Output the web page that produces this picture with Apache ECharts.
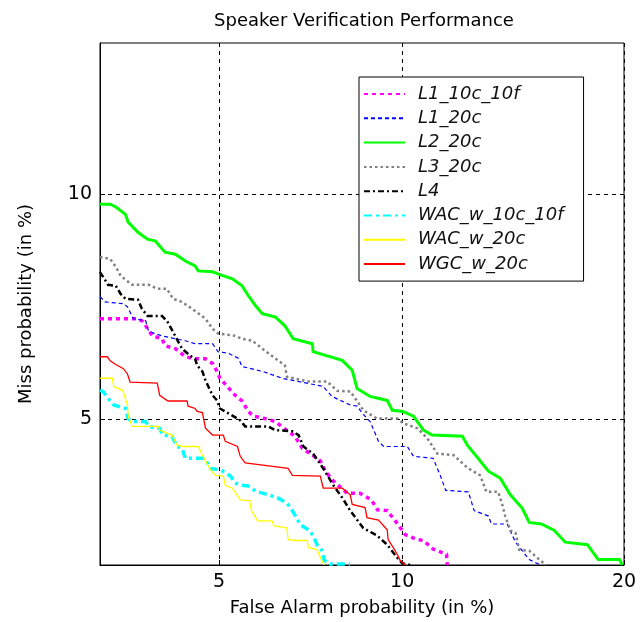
<!DOCTYPE html>
<html><head><meta charset="utf-8">
<script src="https://cdn.jsdelivr.net/npm/echarts@6/dist/echarts.min.js"></script>
<style>html,body{margin:0;padding:0;background:#fff}#c{width:641px;height:622px}</style>
</head><body><div id="c"></div>
<script>
// DET curves: [False Alarm %, Miss %]
const seriesNames = ['L1_10c_10f','L1_20c','L2_20c','L3_20c','L4','WAC_w_10c_10f','WAC_w_20c','WGC_w_20c'];
const xTickLabels = [5, 10, 20];
const yTickLabels = [5, 10];
const xRange = [3, 20];
const yRange = [3, 15];

const L1_10c_10f = [[3.0,6.91],[3.55,6.91],[3.63,6.85],[3.7,6.7],[3.78,6.55],[3.94,6.49],[3.99,6.35],[4.17,6.29],[4.35,6.13],[4.53,6.09],[4.73,6.09],[4.87,6.0],[4.96,5.85],[5.02,5.72],[5.17,5.57],[5.34,5.41],[5.49,5.31],[5.63,5.13],[5.74,5.05],[6.01,5.01],[6.26,4.96],[6.58,4.8],[6.76,4.72],[6.95,4.53],[7.22,4.43],[7.44,4.34],[7.58,4.19],[7.81,4.05],[8.22,3.88],[8.61,3.88],[8.97,3.79],[9.17,3.66],[9.49,3.65],[9.76,3.52],[10.11,3.35],[10.54,3.29],[10.76,3.28],[11.12,3.18],[11.63,3.12],[11.66,3.0]];
const L1_20c = [[3.0,7.4],[3.07,7.28],[3.33,7.24],[3.39,7.17],[3.48,6.91],[3.67,6.87],[3.72,6.64],[3.94,6.55],[4.17,6.49],[4.35,6.45],[4.53,6.39],[4.87,6.39],[4.98,6.23],[5.19,6.2],[5.41,6.1],[5.49,5.94],[5.95,5.85],[6.43,5.72],[7.52,5.57],[7.77,5.39],[8.31,5.24],[8.52,5.22],[8.68,5.1],[8.93,4.96],[9.2,4.64],[9.37,4.56],[10.18,4.56],[10.4,4.41],[11.12,4.38],[11.39,4.13],[11.6,3.92],[12.5,3.9],[12.74,3.65],[13.34,3.58],[13.47,3.48],[14.16,3.48],[14.53,3.26],[15.16,3.06],[15.7,3.0]];
const L2_20c = [[3.0,9.73],[3.14,9.73],[3.22,9.65],[3.36,9.45],[3.4,9.24],[3.55,8.97],[3.7,8.79],[3.83,8.74],[3.99,8.46],[4.17,8.41],[4.35,8.24],[4.53,8.12],[4.59,8.0],[4.87,7.98],[4.98,7.93],[5.28,7.81],[5.49,7.65],[5.63,7.42],[5.79,7.2],[5.95,7.02],[6.26,6.95],[6.5,6.76],[6.71,6.49],[7.22,6.39],[7.24,6.23],[8.07,6.06],[8.37,5.87],[8.52,5.53],[8.93,5.39],[9.49,5.32],[9.66,5.15],[10.02,5.13],[10.4,5.05],[10.76,4.82],[11.08,4.74],[12.26,4.72],[12.46,4.58],[12.9,4.38],[13.34,4.19],[13.85,4.09],[14.3,3.86],[14.84,3.68],[15.16,3.5],[15.73,3.48],[16.36,3.4],[16.9,3.26],[18.03,3.23],[18.6,3.06],[19.75,3.06],[19.9,3.0]];
const L3_20c = [[3.0,8.34],[3.14,8.29],[3.22,8.1],[3.29,7.88],[3.46,7.67],[3.72,7.67],[3.86,7.58],[4.02,7.58],[4.13,7.35],[4.29,7.28],[4.53,7.08],[4.73,6.91],[4.87,6.7],[4.98,6.6],[5.34,6.55],[5.49,6.49],[5.72,6.45],[5.95,6.29],[6.26,6.1],[6.5,5.96],[6.55,5.75],[7.08,5.66],[7.63,5.66],[7.92,5.49],[8.31,5.48],[8.52,5.31],[8.71,5.15],[9.15,5.01],[9.83,5.01],[10.04,4.93],[10.54,4.85],[10.9,4.69],[11.28,4.45],[11.9,4.43],[12.46,4.24],[12.99,4.13],[13.25,3.9],[13.76,3.9],[13.94,3.73],[14.07,3.58],[14.3,3.4],[14.53,3.37],[14.7,3.17],[15.16,3.16],[15.64,3.06],[15.95,3.0]];
const L4 = [[3.0,7.97],[3.06,7.81],[3.11,7.67],[3.22,7.65],[3.29,7.46],[3.36,7.35],[3.55,7.33],[3.61,7.13],[3.7,6.97],[3.94,6.97],[4.03,6.85],[4.13,6.63],[4.22,6.43],[4.29,6.29],[4.44,6.15],[4.53,6.09],[4.57,5.96],[4.67,5.85],[4.73,5.68],[4.87,5.41],[4.96,5.32],[5.02,5.18],[5.28,5.06],[5.45,4.98],[5.56,4.88],[6.09,4.88],[6.26,4.82],[6.69,4.8],[6.85,4.74],[6.98,4.56],[7.24,4.45],[7.52,4.23],[7.81,3.99],[8.07,3.82],[8.31,3.65],[8.71,3.43],[9.15,3.34],[9.49,3.23],[9.83,3.08],[10.0,3.02],[10.29,3.0]];
const WAC_w_10c_10f = [[3.0,5.5],[3.04,5.48],[3.11,5.36],[3.19,5.24],[3.36,5.18],[3.4,5.01],[3.46,4.96],[3.67,4.96],[3.72,4.88],[3.9,4.85],[3.95,4.74],[4.11,4.72],[4.2,4.56],[4.29,4.53],[4.35,4.38],[4.67,4.38],[4.77,4.31],[4.83,4.23],[5.03,4.21],[5.24,4.12],[5.34,4.02],[5.49,3.99],[5.63,3.98],[5.79,3.91],[6.09,3.86],[6.31,3.82],[6.55,3.75],[6.69,3.65],[6.9,3.47],[7.11,3.41],[7.24,3.34],[7.35,3.23],[7.49,3.16],[7.55,3.05],[7.72,3.01],[8.3,3.01]];
const WAC_w_20c = [[3.0,5.72],[3.17,5.72],[3.19,5.57],[3.32,5.5],[3.39,5.24],[3.4,5.06],[3.46,4.88],[3.88,4.88],[3.9,4.82],[4.11,4.74],[4.2,4.58],[4.31,4.56],[4.59,4.56],[4.67,4.43],[4.73,4.34],[4.83,4.21],[4.93,4.13],[5.09,4.12],[5.13,3.99],[5.28,3.95],[5.45,3.79],[5.66,3.78],[5.7,3.65],[5.84,3.52],[6.18,3.52],[6.23,3.46],[6.55,3.43],[6.58,3.29],[6.76,3.28],[7.08,3.28],[7.11,3.2],[7.35,3.17],[7.44,3.08],[7.55,3.0]];
const WGC_w_20c = [[3.0,6.13],[3.1,6.13],[3.14,6.05],[3.22,5.98],[3.33,5.9],[3.39,5.8],[3.43,5.65],[3.86,5.63],[3.9,5.41],[4.04,5.31],[4.38,5.31],[4.4,5.22],[4.53,5.18],[4.57,5.13],[4.67,5.11],[4.73,4.85],[4.87,4.74],[5.09,4.74],[5.13,4.64],[5.39,4.56],[5.45,4.41],[5.56,4.31],[6.58,4.23],[6.69,4.13],[7.44,4.12],[7.52,3.95],[8.07,3.95],[8.31,3.86],[8.37,3.73],[8.77,3.69],[8.83,3.56],[9.2,3.53],[9.49,3.41],[9.52,3.29],[9.69,3.2],[9.86,3.1],[9.93,3.05],[10.11,3.0]];

const seriesData = [L1_10c_10f, L1_20c, L2_20c, L3_20c, L4, WAC_w_10c_10f, WAC_w_20c, WGC_w_20c];
const seriesStyles = [
  {color:'#ff00ff', width:3.5, type:[4,4]},
  {color:'#0000ff', width:1.2, type:[4,3]},
  {color:'#00ff00', width:3, type:'solid'},
  {color:'#808080', width:2.5, type:[2.5,3]},
  {color:'#000000', width:2.5, type:[6,3,2,3]},
  {color:'#00ffff', width:3.5, type:[8,4,3,4]},
  {color:'#ffff00', width:1.3, type:'solid'},
  {color:'#ff0000', width:1.3, type:'solid'}
];

// normal deviate (probit) scale used by DET plots
function probit(p){
  const a=[-3.969683028665376e+01,2.209460984245205e+02,-2.759285104469687e+02,1.383577518672690e+02,-3.066479806614716e+01,2.506628277459239e+00];
  const b=[-5.447609879822406e+01,1.615858368580409e+02,-1.556989798598866e+02,6.680131188771972e+01,-1.328068155288572e+01];
  const c=[-7.784894002430293e-03,-3.223964580411365e-01,-2.400758277161838e+00,-2.549732539343734e+00,4.374664141464968e+00,2.938163982698783e+00];
  const d=[7.784695709041462e-03,3.224671290700398e-01,2.445134137142996e+00,3.754408661907416e+00];
  const pl=0.02425, ph=1-pl; let q,r;
  if(p<pl){q=Math.sqrt(-2*Math.log(p));return (((((c[0]*q+c[1])*q+c[2])*q+c[3])*q+c[4])*q+c[5])/((((d[0]*q+d[1])*q+d[2])*q+d[3])*q+1);}
  if(p<=ph){q=p-0.5;r=q*q;return (((((a[0]*r+a[1])*r+a[2])*r+a[3])*r+a[4])*r+a[5])*q/(((((b[0]*r+b[1])*r+b[2])*r+b[3])*r+b[4])*r+1);}
  q=Math.sqrt(-2*Math.log(1-p));return -(((((c[0]*q+c[1])*q+c[2])*q+c[3])*q+c[4])*q+c[5])/((((d[0]*q+d[1])*q+d[2])*q+d[3])*q+1);
}
const dev = pct => probit(pct/100);
const labelFor = ticks => v => { const t = ticks.find(t => Math.abs(dev(t)-v) < 1e-6); return t === undefined ? '' : String(t); };

const FONT = 'DejaVu Sans, Verdana, sans-serif';
const chart = echarts.init(document.getElementById('c'), null, {renderer:'canvas'});

function axis(ticks, range, name, gap){
  return {
    type:'value', min: dev(range[0]), max: dev(range[1]),
    name: name, nameLocation:'middle', nameGap: gap,
    nameTextStyle:{color:'#000', fontSize:18, fontFamily:FONT},
    axisLine:{show:true, onZero:false, lineStyle:{color:'#000', width:1}},
    axisTick:{show:true, inside:true, length:5, customValues: ticks.map(dev), lineStyle:{color:'#000'}},
    axisLabel:{show:true, customValues: ticks.map(dev), formatter: labelFor(ticks), color:'#000', fontSize:19, fontFamily:FONT, margin:8},
    splitLine:{show:true, lineStyle:{color:'#000', width:1, type:[4,4]}}
  };
}

chart.setOption({
  animation:false,
  backgroundColor:'#fff',
  title:{text:'Speaker Verification Performance', left:359, top:7, textAlign:'center',
    textStyle:{color:'#000', fontSize:18, fontWeight:'normal', fontFamily:FONT}},
  grid:{left:100, top:43, width:524, height:524, show:true, borderColor:'#000', borderWidth:1, backgroundColor:'transparent'},
  xAxis: axis(xTickLabels, xRange, 'False Alarm probability (in %)', 34),
  yAxis: axis(yTickLabels, yRange, 'Miss probability (in %)', 65),
  legend:{
    data: seriesNames, orient:'vertical', left:359, top:77,
    itemWidth:41, itemHeight:14, itemGap:6.3,
    itemStyle:{opacity:0},
    padding:[8,20,8,4], borderColor:'#000', borderWidth:1, backgroundColor:'#fff',
    textStyle:{fontStyle:'italic', fontSize:18, lineHeight:18, color:'#111', fontFamily:FONT, padding:[0,0,0,8]}
  },
  series: seriesNames.map((n,i)=>({
    name:n, type:'line', showSymbol:false, symbol:'none', clip:true,
    data: seriesData[i].map(p=>[dev(p[0]), dev(p[1])]),
    lineStyle:{color:seriesStyles[i].color, width:seriesStyles[i].width, type:seriesStyles[i].type, cap:'butt', join:'miter'},
    itemStyle:{color:seriesStyles[i].color},
    emphasis:{disabled:true}
  }))
});
</script></body></html>
